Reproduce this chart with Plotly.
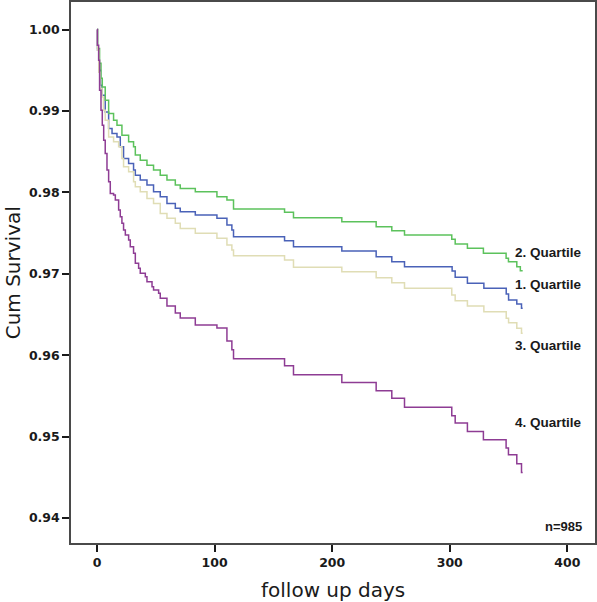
import plotly.graph_objects as go

# ---- data (time in days, cumulative survival) ----
q1_days = [0, 0.5, 1.5, 3.0, 4.3, 7.0, 9.9, 12.8, 17.0, 19.8, 22.6, 26.9, 31.1, 32.6, 36.8, 42.5,
           48.1, 53.8, 59.5, 66.6, 70.8, 83.6, 102, 110.5, 114.7, 116.1, 159.5, 167.1, 208.2,
           237.4, 250.7, 261.5, 302, 304.6, 315, 329, 348, 350, 357, 361, 362]
q1_surv = [1.0, 0.99746, 0.99501, 0.99317, 0.99194, 0.98989, 0.98785, 0.98724, 0.98682, 0.98560,
           0.98417, 0.98356, 0.98274, 0.98212, 0.98151, 0.98090, 0.98007, 0.97946, 0.97865,
           0.97804, 0.97762, 0.97721, 0.97681, 0.97599, 0.97537, 0.97455, 0.97406, 0.97333,
           0.97280, 0.97210, 0.97149, 0.97087, 0.97034, 0.96957, 0.96883, 0.96822, 0.96752,
           0.96678, 0.96629, 0.96577, 0.96577]

q2_days = [0, 0.5, 2.2, 3.4, 4.5, 7.0, 9.9, 14.1, 17.0, 21.2, 26.9, 31.1, 32.6, 36.8, 42.5, 48.1,
           53.8, 59.5, 66.6, 70.8, 83.6, 102, 110.5, 116.1, 159.5, 167.1, 208.2, 237.4, 250.7,
           261.5, 301.7, 304.6, 315, 328.6, 347.9, 349.9, 357, 360, 362]
q2_surv = [1.0, 0.99767, 0.99587, 0.99402, 0.99296, 0.99133, 0.98969, 0.98887, 0.98826, 0.98703,
           0.98621, 0.98560, 0.98458, 0.98396, 0.98335, 0.98274, 0.98212, 0.98151, 0.98090,
           0.98049, 0.98007, 0.97946, 0.97906, 0.97795, 0.97755, 0.97688, 0.97639, 0.97578,
           0.97529, 0.97476, 0.97423, 0.97366, 0.97313, 0.97252, 0.97190, 0.97149, 0.97087,
           0.97038, 0.97038]

q3_days = [0, 0.5, 1.5, 2.5, 4.3, 5.5, 7.0, 9.9, 14.1, 18.4, 21.2, 22.6, 26.9, 31.1, 32.6, 36.8,
           42.5, 48.1, 53.8, 59.5, 66.6, 70.8, 83.6, 102, 110.5, 114.7, 116.1, 159.5, 167.1,
           208.2, 237.4, 250.7, 261.5, 301.7, 304.6, 315, 329, 348, 350, 357, 361, 362]
q3_surv = [1.0, 0.99746, 0.99476, 0.99276, 0.99173, 0.99010, 0.98887, 0.98682, 0.98621, 0.98560,
           0.98417, 0.98314, 0.98253, 0.98130, 0.98069, 0.98007, 0.97926, 0.97865, 0.97742,
           0.97681, 0.97620, 0.97558, 0.97497, 0.97436, 0.97353, 0.97292, 0.97222, 0.97169,
           0.97080, 0.97026, 0.96952, 0.96891, 0.96822, 0.96740, 0.96670, 0.96605, 0.96535,
           0.96454, 0.96400, 0.96331, 0.96270, 0.96270]

q4_days = [0, 0.3, 1.4, 2.2, 3.4, 4.5, 5.7, 7.0, 8.5, 9.9, 11.3, 14.1, 15.6, 18.4, 19.8, 21.2,
           22.6, 24.1, 26.9, 28.3, 31.1, 32.6, 35.4, 36.8, 41.1, 42.5, 46.8, 48.1, 52.4, 53.8,
           59.5, 66.6, 70.8, 83.6, 102, 110.5, 114.7, 116.1, 159.5, 167.1, 208.2, 237.4, 250.7,
           261.5, 301.7, 304.6, 315, 328.6, 347.9, 349.9, 357, 361, 362]
q4_surv = [1.0, 0.99807, 0.99623, 0.99255, 0.99010, 0.98826, 0.98642, 0.98479, 0.98274, 0.98130,
           0.97988, 0.97967, 0.97906, 0.97783, 0.97701, 0.97620, 0.97537, 0.97476, 0.97415,
           0.97333, 0.97252, 0.97129, 0.97067, 0.97006, 0.96964, 0.96903, 0.96842, 0.96801,
           0.96761, 0.96699, 0.96605, 0.96519, 0.96458, 0.96372, 0.96335, 0.96176, 0.96066,
           0.95955, 0.95869, 0.95759, 0.95664, 0.95562, 0.95472, 0.95362, 0.95255, 0.95166,
           0.95063, 0.94961, 0.94859, 0.94777, 0.94667, 0.94560, 0.94560]

series_names = ["1. Quartile", "2. Quartile", "3. Quartile", "4. Quartile"]
label_y = [0.96871, 0.97259, 0.96114, 0.95178]
y_ticks = [0.94, 0.95, 0.96, 0.97, 0.98, 0.99, 1.00]
x_ticks = [0, 100, 200, 300, 400]
n_label = "n=985"
x_title = "follow up days"
y_title = "Cum Survival"

colors = ["#4a62b8", "#5cc25c", "#e0ddb5", "#8e3c94"]

fig = go.Figure()
for name, xs, ys, c in zip(series_names,
                           [q1_days, q2_days, q3_days, q4_days],
                           [q1_surv, q2_surv, q3_surv, q4_surv], colors):
    fig.add_trace(go.Scatter(x=xs, y=ys, mode="lines", name=name,
                             line=dict(color=c, width=1.5, shape="hv"),
                             showlegend=False, hoverinfo="skip"))

for name, ly in zip(series_names, label_y):
    fig.add_annotation(x=353.8, y=ly, text=name, showarrow=False, xanchor="left",
                       yanchor="middle",
                       font=dict(family="Liberation Sans, Arial", size=13.5, color="#1a1a1a",
                                 weight="bold"))

fig.add_annotation(x=414.5, y=0.93893, text=n_label, showarrow=False, xanchor="right",
                   yanchor="middle",
                   font=dict(family="Liberation Sans, Arial", size=13, color="#1a1a1a",
                             weight="bold"))

# axis titles as paper-positioned annotations
fig.add_annotation(xref="paper", yref="paper", x=0.5, y=-0.087, text=x_title,
                   showarrow=False, xanchor="center", yanchor="middle",
                   font=dict(family="DejaVu Sans", size=20, color="#1a1a1a"))
fig.add_annotation(xref="paper", yref="paper", x=-0.111, y=0.5, text=y_title,
                   showarrow=False, xanchor="center", yanchor="middle", textangle=-90,
                   font=dict(family="DejaVu Sans", size=20, color="#1a1a1a"))

axis_common = dict(showline=True, linecolor="#4a4a4a", linewidth=1.5, mirror=True,
                   showgrid=False, zeroline=False, ticks="outside", ticklen=7,
                   tickwidth=2, tickcolor="#1a1a1a", automargin=False,
                   tickfont=dict(family="DejaVu Sans", size=12.5, color="#1a1a1a",
                                 weight="bold"))

fig.update_xaxes(range=[-22.1, 423.5], tickvals=x_ticks, **axis_common)
fig.update_yaxes(range=[0.93693, 1.00339], tickvals=y_ticks, tickformat=".2f",
                 **axis_common)

fig.update_layout(width=597, height=602, plot_bgcolor="white", paper_bgcolor="white",
                  margin=dict(l=71, r=2, t=2, b=59), showlegend=False)

fig.write_html("out.html", config={"displayModeBar": False},
               post_script="document.body.style.margin='0px';"
                           "document.body.style.overflow='hidden';")
